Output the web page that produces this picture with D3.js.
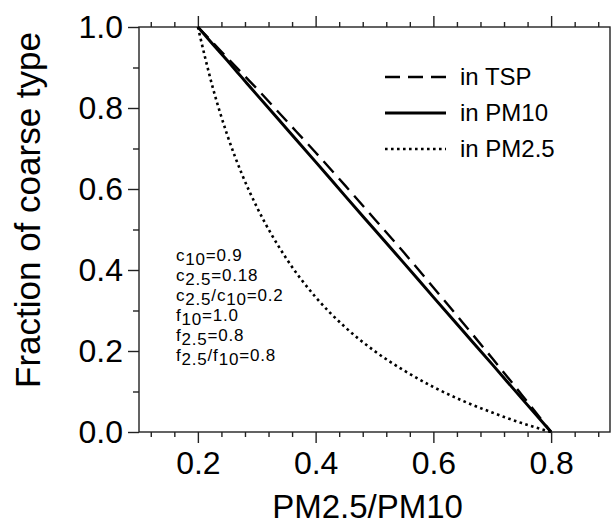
<!DOCTYPE html>
<html>
<head>
<meta charset="utf-8">
<script src="https://cdn.jsdelivr.net/npm/d3@7"></script>
<style>
  body { margin: 0; background: #fff; }
  svg { display: block; font-family: "Liberation Sans", Arial, Helvetica, sans-serif; }
</style>
</head>
<body>
<svg width="611" height="526"></svg>
<script>
// PM2.5/PM10 ratio sample positions
const ratio = [0.2, 0.225, 0.25, 0.275, 0.3, 0.35, 0.4, 0.45, 0.5, 0.55, 0.6, 0.65, 0.7, 0.75, 0.8];
// fraction of coarse type
const inTSP  = [1.0, 0.962, 0.924, 0.886, 0.848, 0.769, 0.69, 0.609, 0.526, 0.443, 0.357, 0.27, 0.182, 0.092, 0.0];
const inPM10 = [1.0, 0.958, 0.917, 0.875, 0.833, 0.75, 0.667, 0.583, 0.5, 0.417, 0.333, 0.25, 0.167, 0.083, 0.0];
const inPM25 = [1.0, 0.852, 0.733, 0.636, 0.556, 0.429, 0.333, 0.259, 0.2, 0.152, 0.111, 0.077, 0.048, 0.022, 0.0];

const xTicks = [0.2, 0.4, 0.6, 0.8];
const yTicks = [0.0, 0.2, 0.4, 0.6, 0.8, 1.0];
const legendNames = ["in TSP", "in PM10", "in PM2.5"];
// parameter notes: [base, subscript] pairs and plain strings
const notes = [
  [["c", "10"], "=0.9"],
  [["c", "2.5"], "=0.18"],
  [["c", "2.5"], "/", ["c", "10"], "=0.2"],
  [["f", "10"], "=1.0"],
  [["f", "2.5"], "=0.8"],
  [["f", "2.5"], "/", ["f", "10"], "=0.8"]
];

const svg = d3.select("svg");
const margin = { top: 27, right: 1, bottom: 94, left: 139 };
const width = 611 - margin.left - margin.right;
const height = 526 - margin.top - margin.bottom;

const x = d3.scaleLinear().domain([0.1, 0.9]).range([0, width]);
const y = d3.scaleLinear().domain([0, 1]).range([height, 0]);

const g = svg.append("g").attr("transform", `translate(${margin.left},${margin.top})`);

const minorX = d3.range(0.12, 0.9, 0.04).filter(v => !xTicks.some(t => Math.abs(t - v) < 1e-6));
const minorY = [0.1, 0.3, 0.5, 0.7, 0.9];

function styleAxis(sel) {
  sel.select(".domain").remove();
  sel.selectAll("line").attr("stroke", "#222").attr("stroke-width", 1.4);
  sel.selectAll("text").attr("fill", "#000").style("font-family", null);
}

// bottom
g.append("g").attr("transform", `translate(0,${height})`)
  .call(d3.axisBottom(x).tickValues(minorX).tickSize(5).tickFormat(""))
  .call(styleAxis);
g.append("g").attr("transform", `translate(0,${height})`)
  .call(d3.axisBottom(x).tickValues(xTicks).tickSize(11).tickPadding(8).tickFormat(d3.format(".1f")))
  .call(styleAxis)
  .selectAll("text").attr("font-size", 32);
// top
g.append("g")
  .call(d3.axisTop(x).tickValues(minorX).tickSize(5).tickFormat(""))
  .call(styleAxis);
g.append("g")
  .call(d3.axisTop(x).tickValues(xTicks).tickSize(11).tickFormat(""))
  .call(styleAxis);
// left
g.append("g")
  .call(d3.axisLeft(y).tickValues(minorY).tickSize(6).tickFormat(""))
  .call(styleAxis);
g.append("g")
  .call(d3.axisLeft(y).tickValues(yTicks).tickSize(11).tickPadding(5).tickFormat(d3.format(".1f")))
  .call(styleAxis)
  .selectAll("text").attr("font-size", 32);

// frame
g.append("rect")
  .attr("width", width).attr("height", height)
  .attr("fill", "none").attr("stroke", "#222").attr("stroke-width", 1.4);

// curves
const styles = [
  { data: inTSP,  width: 2.4, dash: "15,8" },
  { data: inPM10, width: 3,   dash: null },
  { data: inPM25, width: 2.6, dash: "2.6,3.4" }
];
const line = d3.line().x(d => x(d[0])).y(d => y(d[1])).curve(d3.curveMonotoneX);

styles.forEach(s => {
  g.append("path")
    .datum(ratio.map((r, i) => [r, s.data[i]]))
    .attr("fill", "none")
    .attr("stroke", "#000")
    .attr("stroke-width", s.width)
    .attr("stroke-dasharray", s.dash)
    .attr("d", line);
});

// legend
const legend = svg.append("g").attr("transform", "translate(385,77)");
legendNames.forEach((name, i) => {
  const row = legend.append("g").attr("transform", `translate(0,${i * 36})`);
  row.append("line")
    .attr("x1", 0).attr("x2", 61)
    .attr("stroke", "#000")
    .attr("stroke-width", styles[i].width)
    .attr("stroke-dasharray", styles[i].dash);
  row.append("text")
    .attr("x", 75).attr("dy", "0.35em")
    .attr("font-size", 24)
    .text(name);
});

// parameter notes (subscripts shifted down with dy)
const noteG = svg.append("g").attr("transform", "translate(176,261)");
notes.forEach((parts, i) => {
  const t = noteG.append("text")
    .attr("y", i * 20)
    .attr("font-size", 17)
    .attr("letter-spacing", 0.8);
  let shift = 0;
  parts.forEach(p => {
    if (Array.isArray(p)) {
      t.append("tspan").attr("dy", -shift).text(p[0]);
      t.append("tspan").attr("dy", 4).text(p[1]);
      shift = 4;
    } else {
      t.append("tspan").attr("dy", -shift).text(p);
      shift = 0;
    }
  });
});

// axis titles
svg.append("text")
  .attr("x", margin.left + width / 2 - 7)
  .attr("y", 518)
  .attr("text-anchor", "middle")
  .attr("font-size", 33)
  .text("PM2.5/PM10");

svg.append("text")
  .attr("transform", "translate(40,210) rotate(-90)")
  .attr("text-anchor", "middle")
  .attr("font-size", 35)
  .text("Fraction of coarse type");
</script>
</body>
</html>
